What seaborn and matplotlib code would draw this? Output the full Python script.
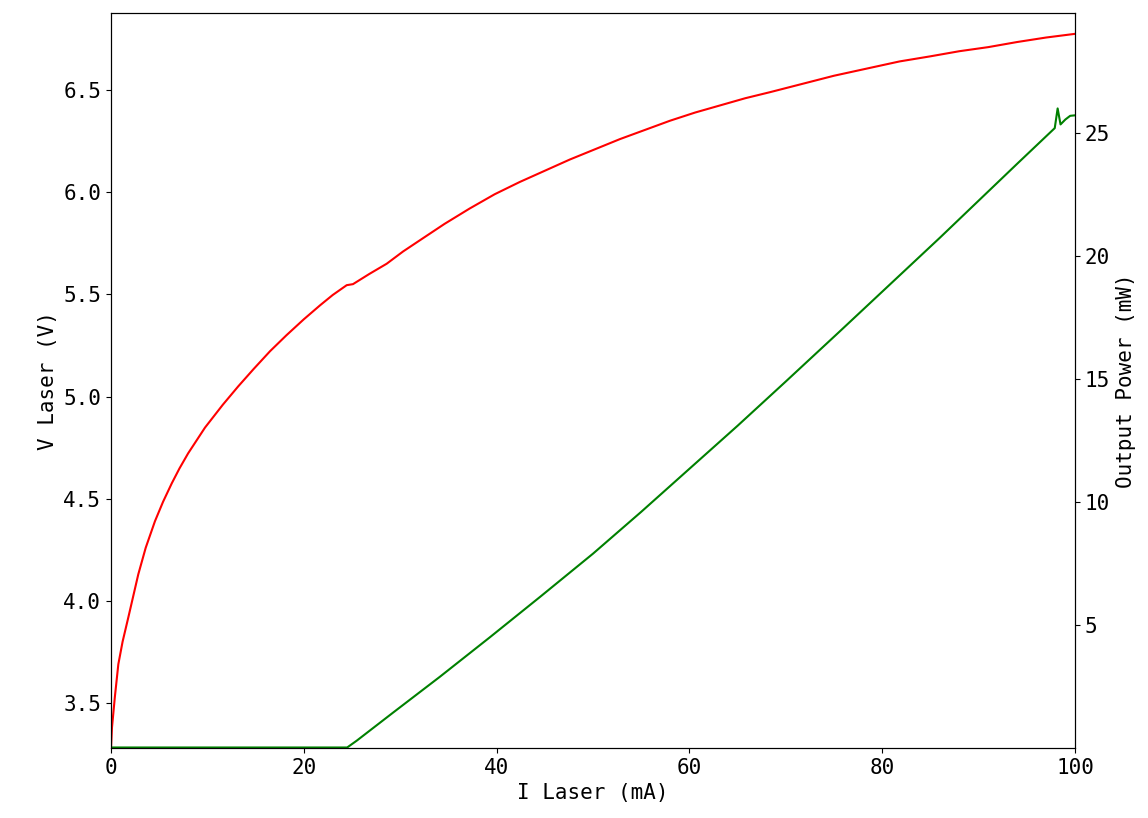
import matplotlib
matplotlib.use("Agg")
import matplotlib.pyplot as plt
import seaborn as sns
import pandas as pd

# Red: laser voltage vs current
i_v = [0, 0.1, 0.24, 0.4, 0.76, 1.2, 1.8, 2.83, 3.6, 4.56, 5.4, 6.3, 7.1, 8.0,
       9.75, 11.6, 13.2, 14.8, 16.5, 18.2, 20.0, 21.7, 23.0, 24.45, 25.1, 26.8,
       28.6, 30.3, 32.05, 34.6, 37.2, 39.8, 42.4, 45.0, 47.6, 50.2, 52.8, 55.4,
       58.0, 60.6, 63.2, 65.8, 68.4, 71.7, 75.0, 78.4, 81.8, 85.0, 88.0, 91.0,
       94.0, 97.0, 100.0]
v_laser = [3.28, 3.38, 3.45, 3.53, 3.69, 3.80, 3.92, 4.13, 4.26, 4.39, 4.485,
           4.575, 4.648, 4.722, 4.848, 4.96, 5.05, 5.135, 5.222, 5.30, 5.378,
           5.447, 5.497, 5.545, 5.55, 5.60, 5.65, 5.71, 5.765, 5.845, 5.92,
           5.99, 6.05, 6.105, 6.16, 6.21, 6.26, 6.305, 6.35, 6.39, 6.425, 6.46,
           6.49, 6.53, 6.57, 6.605, 6.64, 6.665, 6.69, 6.71, 6.735, 6.757, 6.775]

# Green: output power vs current
i_p = [0, 24.5, 25.5, 29.3, 34.1, 39.3, 44.5, 50.0, 55.0, 60.0, 65.0, 70.0,
       75.5, 81.5, 86.0, 90.0, 94.0, 97.9, 98.2, 98.5, 99.0, 99.5, 100.0]
p_out = [0.02, 0.02, 0.3, 1.45, 2.89, 4.5, 6.14, 7.9, 9.6, 11.35, 13.1, 14.9,
         16.9, 19.1, 20.75, 22.25, 23.75, 25.2, 26.0, 25.35, 25.55, 25.7,
         25.72]

df_v = pd.DataFrame({"I": i_v, "V": v_laser})
df_p = pd.DataFrame({"I": i_p, "P": p_out})

plt.rcParams['font.family'] = ['DejaVu Sans Mono', 'DejaVu Sans']

fig = plt.figure(figsize=(11.48, 8.18), dpi=100)
ax = fig.add_axes([0.0967, 0.0856, 0.8397, 0.8985])
sns.lineplot(data=df_v, x="I", y="V", ax=ax, color="red", linewidth=1.5,
             sort=False, estimator=None)
ax2 = ax.twinx()
sns.lineplot(data=df_p, x="I", y="P", ax=ax2, color="green", linewidth=1.5,
             sort=False, estimator=None)

ax.set_xlim(0, 100)
ax.set_ylim(3.28, 6.877)
ax2.set_ylim(0, 29.88)
ax.set_xticks([0, 20, 40, 60, 80, 100])
ax.set_yticks([3.5, 4.0, 4.5, 5.0, 5.5, 6.0, 6.5])
ax.set_yticklabels(["3.5", "4.0", "4.5", "5.0", "5.5", "6.0", "6.5"])
ax2.set_yticks([5, 10, 15, 20, 25])

ax.set_xlabel("I Laser (mA)", fontsize=15)
ax.set_ylabel("V Laser (V)", fontsize=15)
ax2.set_ylabel("Output Power (mW)", fontsize=15)
ax.tick_params(labelsize=15)
ax2.tick_params(labelsize=15)

fig.savefig("out.png", dpi=100)
